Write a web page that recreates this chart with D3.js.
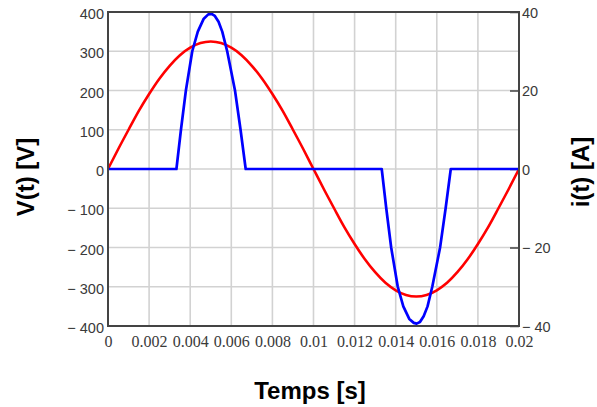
<!DOCTYPE html>
<html><head><meta charset="utf-8">
<script src="https://cdn.jsdelivr.net/npm/d3@7"></script>
<style>body{margin:0;background:#fff}svg{display:block}</style>
</head><body><svg id="c" width="597" height="407"></svg>
<script>
// ---- data ----
const xTicks = [0,0.002,0.004,0.006,0.008,0.01,0.012,0.014,0.016,0.018,0.02];
const vTicks = [-400,-300,-200,-100,0,100,200,300,400];
const iTicks = [-40,-20,0,20,40];

// voltage V(t) [V]
const vTime = [0,0.0005,0.001,0.0015,0.002,0.0025,0.003,0.0035,0.004,0.0045,0.005,0.0055,0.006,0.0065,0.007,0.0075,0.008,0.0085,0.009,0.0095,0.01,
  0.0105,0.011,0.0115,0.012,0.0125,0.013,0.0135,0.014,0.0145,0.015,0.0155,0.016,0.0165,0.017,0.0175,0.018,0.0185,0.019,0.0195,0.02];
const vVal = [0,51,100,148,191,230,263,290,309,321,325,321,309,290,263,230,191,148,100,51,0,
  -51,-100,-148,-191,-230,-263,-290,-309,-321,-325,-321,-309,-290,-263,-230,-191,-148,-100,-51,0];

// current i(t) [A]
const iTime = [0,0.00333,0.00355,0.00379,0.0041,0.00437,0.00466,0.00488,0.00504,0.0052,0.00538,0.00556,0.0058,0.00618,0.00645,0.0067,
  0.01332,0.01354,0.01378,0.0141,0.01437,0.01466,0.01488,0.01502,0.01518,0.01536,0.01555,0.01578,0.01616,0.01643,0.01668,0.02];
const iVal = [0,0,10,20,30,35,38.3,39.4,39.5,39,37.5,35,30,20,10,0,
  0,-10,-20,-30,-35,-38.2,-39.2,-39.4,-39,-37.5,-35,-30,-20,-10,0,0];

// ---- drawing ----
const svg = d3.select("#c");
svg.append("rect").attr("width",597).attr("height",407).attr("fill","#fff");
const L=108,R=519,T=12,B=326;
const x = d3.scaleLinear().domain([0,0.02]).range([L,R]);
const yV = d3.scaleLinear().domain([-400,400]).range([B,T]);
const yI = d3.scaleLinear().domain([-40,40]).range([B,T]);

const grid = svg.append("g").attr("stroke","#d2d2d2").attr("stroke-width",1.6);
xTicks.slice(1,-1).forEach(t=>grid.append("line").attr("x1",x(t)).attr("x2",x(t)).attr("y1",T).attr("y2",B));
vTicks.slice(1,-1).forEach(v=>grid.append("line").attr("x1",L).attr("x2",R).attr("y1",yV(v)).attr("y2",yV(v)));

const minusFmt = d => d<0 ? "\u2212 "+(-d) : String(d);

const ax = svg.append("g").attr("transform",`translate(${L},0)`)
  .call(d3.axisLeft(yV).tickValues(vTicks).tickSize(0).tickPadding(4).tickFormat(minusFmt));
ax.select(".domain").remove();
ax.selectAll("text").attr("font-family","'Liberation Sans',Arial,sans-serif").attr("font-size",14.5).attr("fill","#3a3a3a").attr("dy","0.45em");

const bx = svg.append("g").attr("transform",`translate(0,${B})`)
  .call(d3.axisBottom(x).tickValues(xTicks).tickSize(0).tickPadding(10).tickFormat(d=>String(+d.toFixed(3))));
bx.select(".domain").remove();
bx.selectAll("text").attr("font-family","'Liberation Serif','Times New Roman',serif").attr("font-size",16).attr("fill","#3a3a3a");

const rx = svg.append("g").attr("transform",`translate(${R},0)`)
  .call(d3.axisRight(yI).tickValues(iTicks).tickSize(-9).tickPadding(3).tickFormat(minusFmt));
rx.select(".domain").remove();
rx.selectAll("line").attr("stroke","#444").attr("stroke-width",1.5);
rx.selectAll("text").attr("font-family","'Liberation Sans',Arial,sans-serif").attr("font-size",14.5).attr("fill","#3a3a3a").attr("dy","0.35em");

const vData = vTime.map((t,k)=>[t,vVal[k]]);
const iData = iTime.map((t,k)=>[t,iVal[k]]);
svg.append("path").datum(vData).attr("fill","none").attr("stroke","#ff0000").attr("stroke-width",2.6)
  .attr("d",d3.line().x(d=>x(d[0])).y(d=>yV(d[1])).curve(d3.curveMonotoneX));
svg.append("path").datum(iData).attr("fill","none").attr("stroke","#0000ff").attr("stroke-width",2.7).attr("stroke-linejoin","round")
  .attr("d",d3.line().x(d=>x(d[0])).y(d=>yI(d[1])));

svg.append("rect").attr("x",L).attr("y",T).attr("width",R-L).attr("height",B-T)
  .attr("fill","none").attr("stroke","#444").attr("stroke-width",2);

const tf = "'Liberation Sans',Arial,sans-serif";
svg.append("text").attr("x",310).attr("y",399).attr("text-anchor","middle").attr("font-family",tf)
  .attr("font-weight","bold").attr("font-size",24).attr("fill","#000").text("Temps  [s]");
svg.append("text").attr("transform","translate(34,177) rotate(-90)").attr("text-anchor","middle").attr("font-family",tf)
  .attr("font-weight","bold").attr("font-size",24).attr("fill","#000").text("V(t) [V]");
svg.append("text").attr("transform","translate(589,172) rotate(-90)").attr("text-anchor","middle").attr("font-family",tf)
  .attr("font-weight","bold").attr("font-size",24).attr("fill","#000").text("i(t) [A]");
</script></body></html>
